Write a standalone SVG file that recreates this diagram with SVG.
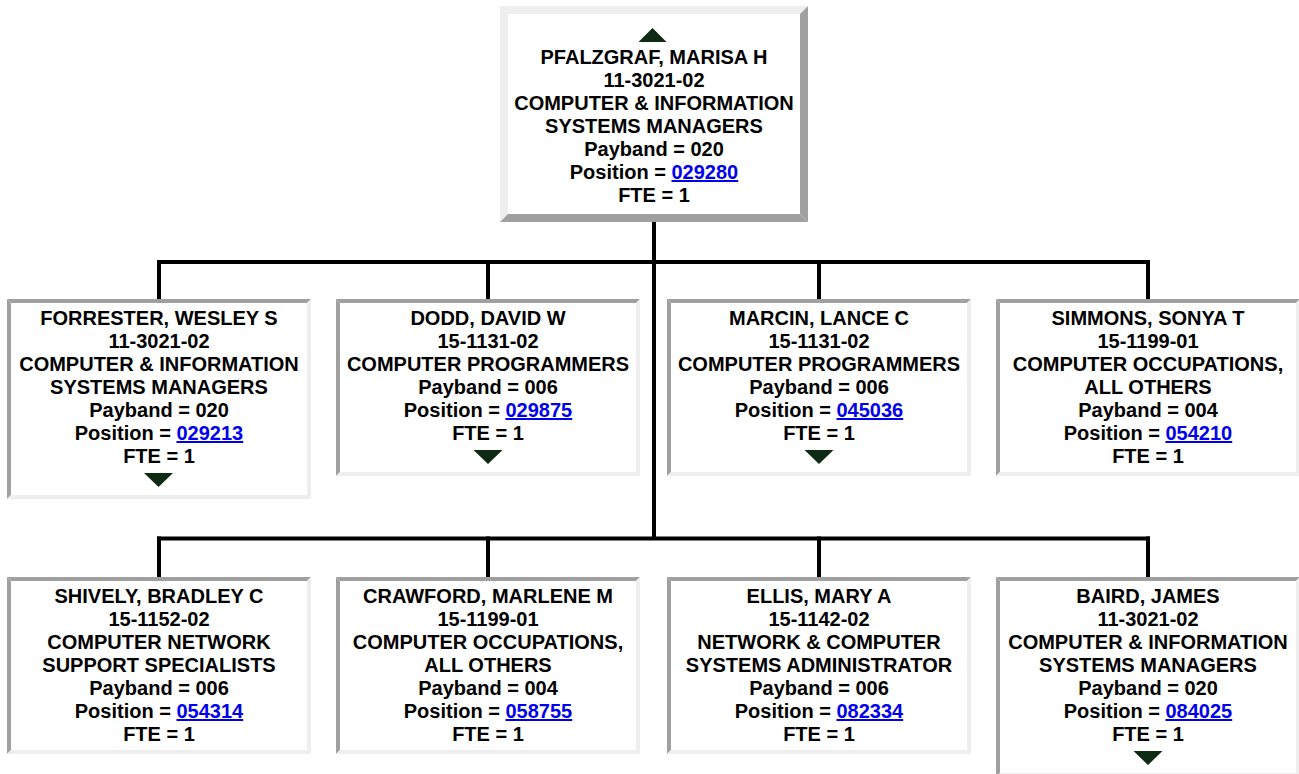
<svg xmlns="http://www.w3.org/2000/svg" width="1299" height="774" viewBox="0 0 1299 774">
<style>
.lt{fill:#eeeeee}
.dk{fill:#a0a0a0}
.bg{fill:#ffffff}
text{font-family:"Liberation Sans",Arial,Helvetica,sans-serif;font-weight:bold;font-size:20px;fill:#000;text-anchor:middle}
.lk{fill:#0000ee;text-decoration:underline}
.ar{fill:#0f2a12}
.cn{stroke:#000;stroke-width:4;fill:none;stroke-linecap:square}
</style>
<rect x="0" y="0" width="1299" height="774" fill="#ffffff"/>
<g id="connectors">
<path class="cn" d="M654 224V538"/>
<path class="cn" d="M159 262H1148"/>
<path class="cn" d="M159 262V297M488 262V297M819 262V297M1148 262V297"/>
<path class="cn" d="M159 538.5H1148"/>
<path class="cn" d="M159 538.5V575M488 538.5V575M819 538.5V575M1148 538.5V575"/>
</g>
<g id="node-pfalzgraf">
<rect class="bg" x="500" y="6" width="308" height="216"/>
<polygon class="lt" points="500,6 808,6 800,14 508,14"/>
<polygon class="lt" points="500,6 508,14 508,214 500,222"/>
<polygon class="dk" points="808,6 808,222 800,214 800,14"/>
<polygon class="dk" points="500,222 808,222 800,214 508,214"/>
<polygon class="ar" points="638.5,42 666.5,42 652.5,28"/>
<text x="654" y="64">PFALZGRAF, MARISA H</text>
<text x="654" y="87">11-3021-02</text>
<text x="654" y="110">COMPUTER &amp; INFORMATION</text>
<text x="654" y="133">SYSTEMS MANAGERS</text>
<text x="654" y="156">Payband = 020</text>
<text x="654" y="179">Position = <tspan class="lk">029280</tspan></text>
<text x="654" y="202">FTE = 1</text>
</g>
<g id="node-forrester">
<rect class="bg" x="7" y="299" width="304" height="200"/>
<polygon class="dk" points="7,299 311,299 307,303 11,303"/>
<polygon class="dk" points="7,299 11,303 11,495 7,499"/>
<polygon class="lt" points="311,299 311,499 307,495 307,303"/>
<polygon class="lt" points="7,499 311,499 307,495 11,495"/>
<text x="159" y="325">FORRESTER, WESLEY S</text>
<text x="159" y="348">11-3021-02</text>
<text x="159" y="371">COMPUTER &amp; INFORMATION</text>
<text x="159" y="394">SYSTEMS MANAGERS</text>
<text x="159" y="417">Payband = 020</text>
<text x="159" y="440">Position = <tspan class="lk">029213</tspan></text>
<text x="159" y="463">FTE = 1</text>
<polygon class="ar" points="144,473 173,473 158.5,487"/>
</g>
<g id="node-dodd">
<rect class="bg" x="336" y="299" width="304" height="177"/>
<polygon class="dk" points="336,299 640,299 636,303 340,303"/>
<polygon class="dk" points="336,299 340,303 340,472 336,476"/>
<polygon class="lt" points="640,299 640,476 636,472 636,303"/>
<polygon class="lt" points="336,476 640,476 636,472 340,472"/>
<text x="488" y="325">DODD, DAVID W</text>
<text x="488" y="348">15-1131-02</text>
<text x="488" y="371">COMPUTER PROGRAMMERS</text>
<text x="488" y="394">Payband = 006</text>
<text x="488" y="417">Position = <tspan class="lk">029875</tspan></text>
<text x="488" y="440">FTE = 1</text>
<polygon class="ar" points="473.5,450 502.5,450 488,464"/>
</g>
<g id="node-marcin">
<rect class="bg" x="667" y="299" width="304" height="177"/>
<polygon class="dk" points="667,299 971,299 967,303 671,303"/>
<polygon class="dk" points="667,299 671,303 671,472 667,476"/>
<polygon class="lt" points="971,299 971,476 967,472 967,303"/>
<polygon class="lt" points="667,476 971,476 967,472 671,472"/>
<text x="819" y="325">MARCIN, LANCE C</text>
<text x="819" y="348">15-1131-02</text>
<text x="819" y="371">COMPUTER PROGRAMMERS</text>
<text x="819" y="394">Payband = 006</text>
<text x="819" y="417">Position = <tspan class="lk">045036</tspan></text>
<text x="819" y="440">FTE = 1</text>
<polygon class="ar" points="804.5,450 833.5,450 819,464"/>
</g>
<g id="node-simmons">
<rect class="bg" x="996" y="299" width="304" height="177"/>
<polygon class="dk" points="996,299 1300,299 1296,303 1000,303"/>
<polygon class="dk" points="996,299 1000,303 1000,472 996,476"/>
<polygon class="lt" points="1300,299 1300,476 1296,472 1296,303"/>
<polygon class="lt" points="996,476 1300,476 1296,472 1000,472"/>
<text x="1148" y="325">SIMMONS, SONYA T</text>
<text x="1148" y="348">15-1199-01</text>
<text x="1148" y="371">COMPUTER OCCUPATIONS,</text>
<text x="1148" y="394">ALL OTHERS</text>
<text x="1148" y="417">Payband = 004</text>
<text x="1148" y="440">Position = <tspan class="lk">054210</tspan></text>
<text x="1148" y="463">FTE = 1</text>
</g>
<g id="node-shively">
<rect class="bg" x="7" y="577" width="304" height="177"/>
<polygon class="dk" points="7,577 311,577 307,581 11,581"/>
<polygon class="dk" points="7,577 11,581 11,750 7,754"/>
<polygon class="lt" points="311,577 311,754 307,750 307,581"/>
<polygon class="lt" points="7,754 311,754 307,750 11,750"/>
<text x="159" y="603">SHIVELY, BRADLEY C</text>
<text x="159" y="626">15-1152-02</text>
<text x="159" y="649">COMPUTER NETWORK</text>
<text x="159" y="672">SUPPORT SPECIALISTS</text>
<text x="159" y="695">Payband = 006</text>
<text x="159" y="718">Position = <tspan class="lk">054314</tspan></text>
<text x="159" y="741">FTE = 1</text>
</g>
<g id="node-crawford">
<rect class="bg" x="336" y="577" width="304" height="177"/>
<polygon class="dk" points="336,577 640,577 636,581 340,581"/>
<polygon class="dk" points="336,577 340,581 340,750 336,754"/>
<polygon class="lt" points="640,577 640,754 636,750 636,581"/>
<polygon class="lt" points="336,754 640,754 636,750 340,750"/>
<text x="488" y="603">CRAWFORD, MARLENE M</text>
<text x="488" y="626">15-1199-01</text>
<text x="488" y="649">COMPUTER OCCUPATIONS,</text>
<text x="488" y="672">ALL OTHERS</text>
<text x="488" y="695">Payband = 004</text>
<text x="488" y="718">Position = <tspan class="lk">058755</tspan></text>
<text x="488" y="741">FTE = 1</text>
</g>
<g id="node-ellis">
<rect class="bg" x="667" y="577" width="304" height="177"/>
<polygon class="dk" points="667,577 971,577 967,581 671,581"/>
<polygon class="dk" points="667,577 671,581 671,750 667,754"/>
<polygon class="lt" points="971,577 971,754 967,750 967,581"/>
<polygon class="lt" points="667,754 971,754 967,750 671,750"/>
<text x="819" y="603">ELLIS, MARY A</text>
<text x="819" y="626">15-1142-02</text>
<text x="819" y="649">NETWORK &amp; COMPUTER</text>
<text x="819" y="672">SYSTEMS ADMINISTRATOR</text>
<text x="819" y="695">Payband = 006</text>
<text x="819" y="718">Position = <tspan class="lk">082334</tspan></text>
<text x="819" y="741">FTE = 1</text>
</g>
<g id="node-baird">
<rect class="bg" x="996" y="577" width="304" height="200"/>
<polygon class="dk" points="996,577 1300,577 1296,581 1000,581"/>
<polygon class="dk" points="996,577 1000,581 1000,773 996,777"/>
<polygon class="lt" points="1300,577 1300,777 1296,773 1296,581"/>
<polygon class="lt" points="996,777 1300,777 1296,773 1000,773"/>
<text x="1148" y="603">BAIRD, JAMES</text>
<text x="1148" y="626">11-3021-02</text>
<text x="1148" y="649">COMPUTER &amp; INFORMATION</text>
<text x="1148" y="672">SYSTEMS MANAGERS</text>
<text x="1148" y="695">Payband = 020</text>
<text x="1148" y="718">Position = <tspan class="lk">084025</tspan></text>
<text x="1148" y="741">FTE = 1</text>
<polygon class="ar" points="1133.5,751 1162.5,751 1148,765"/>
</g>
</svg>
